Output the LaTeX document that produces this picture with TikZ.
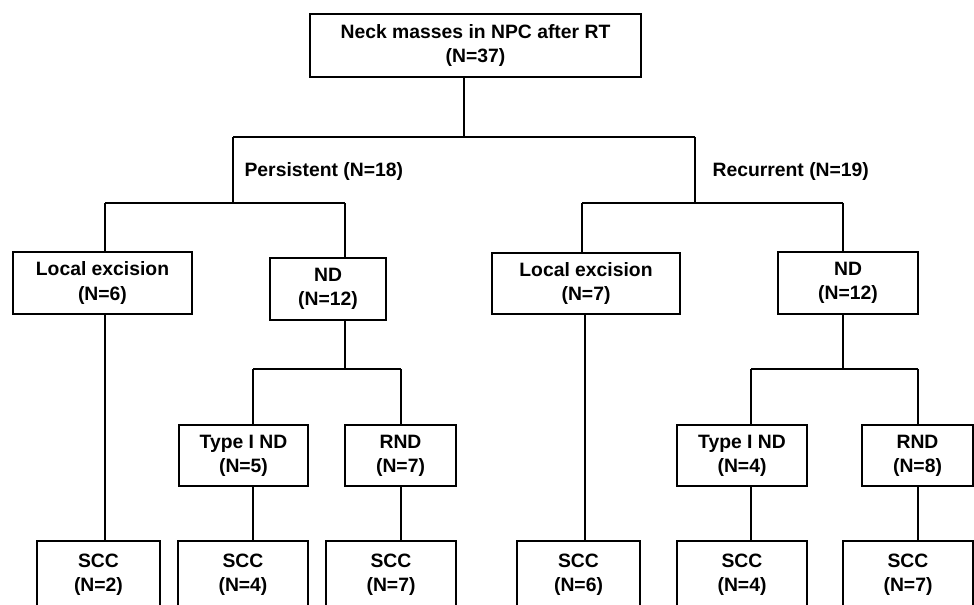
\documentclass[tikz,border=0pt]{standalone}
\usepackage{fontspec}
\setmainfont{Liberation Sans}
\newdimen\pxu
\pxu=0.75pt
\begin{document}
\begin{tikzpicture}[x=0.75pt,y=-0.75pt,
  line width=0.9pt,
  box/.style={draw,line width=0.9pt,inner sep=0pt,align=center,
    font=\fontsize{14.5pt}{18.2pt}\selectfont\bfseries},
  lbl/.style={inner sep=0pt,anchor=base west,
    font=\fontsize{14.5pt}{18.2pt}\selectfont\bfseries}]
\clip (0,0) rectangle (974,605);
\useasboundingbox (0,0) rectangle (974,605);
% boxes
\node[box,minimum width=331\pxu,minimum height=63\pxu] (top) at (475.5,45.5) {Neck masses in NPC after RT\\(N=37)};
\node[box,minimum width=179\pxu,minimum height=62\pxu] (le1) at (102.5,283) {Local excision\\(N=6)};
\node[box,minimum width=116\pxu,minimum height=62\pxu] (nd1) at (328,289) {ND\\(N=12)};
\node[box,minimum width=188\pxu,minimum height=61\pxu] (le2) at (586,283.5) {Local excision\\(N=7)};
\node[box,minimum width=140\pxu,minimum height=62\pxu] (nd2) at (848,283) {ND\\(N=12)};
\node[box,minimum width=129\pxu,minimum height=61\pxu] (t1) at (243.5,455.5) {Type I ND\\(N=5)};
\node[box,minimum width=111\pxu,minimum height=61\pxu] (r1) at (400.5,455.5) {RND\\(N=7)};
\node[box,minimum width=130\pxu,minimum height=61\pxu] (t2) at (742,455.5) {Type I ND\\(N=4)};
\node[box,minimum width=111\pxu,minimum height=61\pxu] (r2) at (917.5,455.5) {RND\\(N=8)};
\node[box,minimum width=123\pxu,minimum height=67\pxu] (s1) at (98.5,574.5) {SCC\\(N=2)};
\node[box,minimum width=130\pxu,minimum height=67\pxu] (s2) at (243,574.5) {SCC\\(N=4)};
\node[box,minimum width=130\pxu,minimum height=67\pxu] (s3) at (391,574.5) {SCC\\(N=7)};
\node[box,minimum width=123\pxu,minimum height=67\pxu] (s4) at (578.5,574.5) {SCC\\(N=6)};
\node[box,minimum width=130\pxu,minimum height=67\pxu] (s5) at (742,574.5) {SCC\\(N=4)};
\node[box,minimum width=130\pxu,minimum height=67\pxu] (s6) at (908,574.5) {SCC\\(N=7)};
% labels
\node[lbl] (lp) at (244,177) {Persistent (N=18)};
\node[lbl] (lr) at (712,177) {Recurrent (N=19)};
% junction coordinates
\coordinate (j0) at (464,137);
\coordinate (jl) at (233,137);
\coordinate (jr) at (695,137);
\coordinate (hl) at (233,203);
\coordinate (hr) at (695,203);
\coordinate (al) at (105,203);
\coordinate (bl) at (345,203);
\coordinate (ar) at (582,203);
\coordinate (br) at (843,203);
\coordinate (c1) at (345,369);
\coordinate (d1) at (253,369);
\coordinate (e1) at (401,369);
\coordinate (c2) at (843,369);
\coordinate (d2) at (751,369);
\coordinate (e2) at (918,369);
\coordinate (v4) at (585,314);
% connectors
\draw (top.south -| j0) -- (j0);
\draw (jl) -- (jr);
\draw (jl) -- (hl);
\draw (jr) -- (hr);
\draw (al) -- (bl);
\draw (ar) -- (br);
\draw (al) -- (le1.north -| al);
\draw (bl) -- (nd1.north -| bl);
\draw (ar) -- (le2.north -| ar);
\draw (br) -- (nd2.north -| br);
\draw (le1.south -| al) -- (s1.north -| al);
\draw (nd1.south -| c1) -- (c1);
\draw (d1) -- (e1);
\draw (d1) -- (t1.north -| d1);
\draw (e1) -- (r1.north -| e1);
\draw (t1.south -| d1) -- (s2.north -| d1);
\draw (r1.south -| e1) -- (s3.north -| e1);
\draw (le2.south -| v4) -- (s4.north -| v4);
\draw (nd2.south -| c2) -- (c2);
\draw (d2) -- (e2);
\draw (d2) -- (t2.north -| d2);
\draw (e2) -- (r2.north -| e2);
\draw (t2.south -| d2) -- (s5.north -| d2);
\draw (r2.south -| e2) -- (s6.north -| e2);
\end{tikzpicture}
\end{document}
